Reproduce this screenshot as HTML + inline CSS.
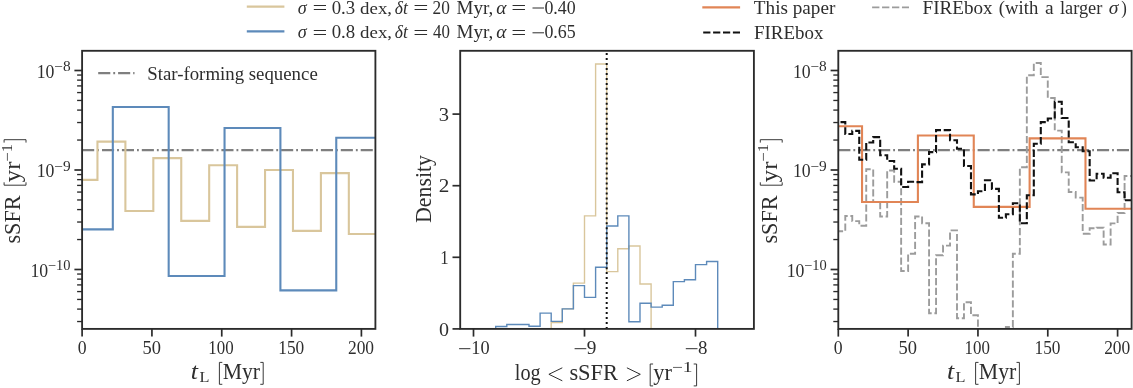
<!DOCTYPE html>
<html><head><meta charset="utf-8"><title>chart</title>
<style>html,body{margin:0;padding:0;background:#fff;}svg{display:block;will-change:transform;}text{font-family:"Liberation Serif",serif;}</style></head>
<body>
<svg width="1133" height="388" viewBox="0 0 1133 388" font-family="'Liberation Serif', serif">
<rect width="1133" height="388" fill="#fff"/>
<clipPath id="c1"><rect x="82.1" y="50.8" width="293.29999999999995" height="278.09999999999997"/></clipPath>
<g clip-path="url(#c1)" fill="none" stroke-linejoin="miter">
<line x1="82.1" x2="375.4" y1="150.1" y2="150.1" stroke="#7f7f7f" stroke-width="2.1" stroke-dasharray="12.1 2.97 1.86 2.97"/>
<path d="M82.10,179.90H97.46V141.60H125.39V211.00H153.32V158.10H181.25V220.90H209.18V165.20H237.11V226.90H265.04V170.00H292.97V230.90H320.90V173.10H348.83V234.00H375.37" stroke="#d9c69c" stroke-width="2.1"/>
<path d="M82.10,229.40H112.82V107.00H168.68V276.00H224.54V128.00H280.40V290.40H336.26V137.70H375.37" stroke="#5d8aba" stroke-width="2.1"/>
</g>
<rect x="82.10" y="50.80" width="293.30" height="278.10" fill="none" stroke="#2b2b2b" stroke-width="1.85"/>
<line x1="74.40" x2="82.10" y1="70.50" y2="70.50" stroke="#2b2b2b" stroke-width="1.7"/>
<line x1="74.40" x2="82.10" y1="170.00" y2="170.00" stroke="#2b2b2b" stroke-width="1.7"/>
<line x1="74.40" x2="82.10" y1="269.50" y2="269.50" stroke="#2b2b2b" stroke-width="1.7"/>
<line x1="77.10" x2="82.10" y1="321.53" y2="321.53" stroke="#2b2b2b" stroke-width="1.35"/>
<line x1="77.10" x2="82.10" y1="309.10" y2="309.10" stroke="#2b2b2b" stroke-width="1.35"/>
<line x1="77.10" x2="82.10" y1="299.45" y2="299.45" stroke="#2b2b2b" stroke-width="1.35"/>
<line x1="77.10" x2="82.10" y1="291.57" y2="291.57" stroke="#2b2b2b" stroke-width="1.35"/>
<line x1="77.10" x2="82.10" y1="284.91" y2="284.91" stroke="#2b2b2b" stroke-width="1.35"/>
<line x1="77.10" x2="82.10" y1="279.14" y2="279.14" stroke="#2b2b2b" stroke-width="1.35"/>
<line x1="77.10" x2="82.10" y1="274.05" y2="274.05" stroke="#2b2b2b" stroke-width="1.35"/>
<line x1="77.10" x2="82.10" y1="239.55" y2="239.55" stroke="#2b2b2b" stroke-width="1.35"/>
<line x1="77.10" x2="82.10" y1="222.03" y2="222.03" stroke="#2b2b2b" stroke-width="1.35"/>
<line x1="77.10" x2="82.10" y1="209.60" y2="209.60" stroke="#2b2b2b" stroke-width="1.35"/>
<line x1="77.10" x2="82.10" y1="199.95" y2="199.95" stroke="#2b2b2b" stroke-width="1.35"/>
<line x1="77.10" x2="82.10" y1="192.07" y2="192.07" stroke="#2b2b2b" stroke-width="1.35"/>
<line x1="77.10" x2="82.10" y1="185.41" y2="185.41" stroke="#2b2b2b" stroke-width="1.35"/>
<line x1="77.10" x2="82.10" y1="179.64" y2="179.64" stroke="#2b2b2b" stroke-width="1.35"/>
<line x1="77.10" x2="82.10" y1="174.55" y2="174.55" stroke="#2b2b2b" stroke-width="1.35"/>
<line x1="77.10" x2="82.10" y1="140.05" y2="140.05" stroke="#2b2b2b" stroke-width="1.35"/>
<line x1="77.10" x2="82.10" y1="122.53" y2="122.53" stroke="#2b2b2b" stroke-width="1.35"/>
<line x1="77.10" x2="82.10" y1="110.10" y2="110.10" stroke="#2b2b2b" stroke-width="1.35"/>
<line x1="77.10" x2="82.10" y1="100.45" y2="100.45" stroke="#2b2b2b" stroke-width="1.35"/>
<line x1="77.10" x2="82.10" y1="92.57" y2="92.57" stroke="#2b2b2b" stroke-width="1.35"/>
<line x1="77.10" x2="82.10" y1="85.91" y2="85.91" stroke="#2b2b2b" stroke-width="1.35"/>
<line x1="77.10" x2="82.10" y1="80.14" y2="80.14" stroke="#2b2b2b" stroke-width="1.35"/>
<line x1="77.10" x2="82.10" y1="75.05" y2="75.05" stroke="#2b2b2b" stroke-width="1.35"/>
<text x="36.74" y="77.60" font-size="18.0" textLength="17.73" lengthAdjust="spacingAndGlyphs" fill="#2e2e2e">10</text>
<text x="54.23" y="71.40" font-size="13.8" textLength="16.35" lengthAdjust="spacingAndGlyphs" fill="#2e2e2e">−8</text>
<text x="36.74" y="177.10" font-size="18.0" textLength="17.73" lengthAdjust="spacingAndGlyphs" fill="#2e2e2e">10</text>
<text x="54.23" y="170.90" font-size="13.8" textLength="16.40" lengthAdjust="spacingAndGlyphs" fill="#2e2e2e">−9</text>
<text x="30.44" y="276.60" font-size="18.0" textLength="17.73" lengthAdjust="spacingAndGlyphs" fill="#2e2e2e">10</text>
<text x="47.98" y="270.40" font-size="13.8" textLength="22.57" lengthAdjust="spacingAndGlyphs" fill="#2e2e2e">−10</text>
<line x1="82.10" x2="82.10" y1="328.90" y2="336.60" stroke="#2b2b2b" stroke-width="1.7"/>
<text x="77.63" y="353.90" font-size="18.0" textLength="8.85" lengthAdjust="spacingAndGlyphs" fill="#2e2e2e">0</text>
<line x1="151.93" x2="151.93" y1="328.90" y2="336.60" stroke="#2b2b2b" stroke-width="1.7"/>
<text x="142.43" y="353.90" font-size="18.0" textLength="18.48" lengthAdjust="spacingAndGlyphs" fill="#2e2e2e">50</text>
<line x1="221.75" x2="221.75" y1="328.90" y2="336.60" stroke="#2b2b2b" stroke-width="1.7"/>
<text x="208.32" y="353.90" font-size="18.0" textLength="25.33" lengthAdjust="spacingAndGlyphs" fill="#2e2e2e">100</text>
<line x1="291.58" x2="291.58" y1="328.90" y2="336.60" stroke="#2b2b2b" stroke-width="1.7"/>
<text x="278.28" y="353.90" font-size="18.0" textLength="25.98" lengthAdjust="spacingAndGlyphs" fill="#2e2e2e">150</text>
<line x1="361.40" x2="361.40" y1="328.90" y2="336.60" stroke="#2b2b2b" stroke-width="1.7"/>
<text x="347.93" y="353.90" font-size="18.0" textLength="26.13" lengthAdjust="spacingAndGlyphs" fill="#2e2e2e">200</text>
<line x1="98.2" x2="134.5" y1="73.1" y2="73.1" stroke="#7f7f7f" stroke-width="2.1" stroke-dasharray="12.1 2.97 1.86 2.97"/>
<text x="147.24" y="79.60" font-size="18.0" textLength="170.51" lengthAdjust="spacingAndGlyphs" fill="#2e2e2e">Star-forming sequence</text>
<text x="190.86" y="378.70" font-size="23.5" font-style="italic" textLength="7.22" lengthAdjust="spacingAndGlyphs" fill="#2e2e2e">t</text>
<text x="199.43" y="382.30" font-size="15.0" textLength="9.95" lengthAdjust="spacingAndGlyphs" fill="#2e2e2e">L</text>
<path d="M222.30,362.40H219.40V384.30H222.30" fill="none" stroke="#2e2e2e" stroke-width="0.95" stroke-linejoin="miter"/>
<text x="222.67" y="378.70" font-size="23.6" textLength="37.42" lengthAdjust="spacingAndGlyphs" fill="#2e2e2e">Myr</text>
<path d="M260.30,362.40H263.20V384.30H260.30" fill="none" stroke="#2e2e2e" stroke-width="0.95" stroke-linejoin="miter"/>
<g transform="translate(20.4,191.1) rotate(-90)">
<text x="-52.51" y="0.00" font-size="23.6" textLength="48.14" lengthAdjust="spacingAndGlyphs" fill="#2e2e2e">sSFR</text>
<path d="M8.80,-16.30H5.90V5.60H8.80" fill="none" stroke="#2e2e2e" stroke-width="0.95" stroke-linejoin="miter"/>
<text x="8.90" y="0.00" font-size="23.6" textLength="20.62" lengthAdjust="spacingAndGlyphs" fill="#2e2e2e">yr</text>
<text x="29.37" y="-8.30" font-size="14.8" textLength="17.73" lengthAdjust="spacingAndGlyphs" fill="#2e2e2e">−1</text>
<path d="M48.50,-16.30H51.40V5.60H48.50" fill="none" stroke="#2e2e2e" stroke-width="0.95" stroke-linejoin="miter"/>
</g>
<clipPath id="c2"><rect x="460.2" y="50.8" width="293.7" height="278.09999999999997"/></clipPath>
<g clip-path="url(#c2)" fill="none" stroke-linejoin="miter">
<path d="M551.20,328.90V322.46H562.30V308.85H573.40V283.08H584.50V215.92H595.60V63.98H606.70V271.62H617.80V248.71H628.90V245.99H640.00V283.94H651.10V328.90" stroke="#d9c69c" stroke-width="1.4"/>
<path d="M495.70,328.90V326.47H506.80V324.46H517.90V324.46H529.00V326.18H540.10V313.15H551.20V321.38H562.30V308.85H573.40V285.58H584.50V297.40H595.60V267.18H606.70V225.94H617.80V215.92H628.90V321.81H640.00V303.20H651.10V307.13H662.20V305.20H673.30V281.64H684.40V279.71H695.50V264.60H706.60V261.52H717.70V328.90" stroke="#5d8aba" stroke-width="1.4"/>
<line x1="606.70" x2="606.70" y1="328.9" y2="50.8" stroke="#111" stroke-width="2.0" stroke-dasharray="2.0 2.98"/>
</g>
<rect x="460.20" y="50.80" width="293.70" height="278.10" fill="none" stroke="#2b2b2b" stroke-width="1.85"/>
<line x1="452.50" x2="460.20" y1="328.90" y2="328.90" stroke="#2b2b2b" stroke-width="1.7"/>
<text x="438.94" y="335.50" font-size="18.0" textLength="10.03" lengthAdjust="spacingAndGlyphs" fill="#2e2e2e">0</text>
<line x1="452.50" x2="460.20" y1="257.30" y2="257.30" stroke="#2b2b2b" stroke-width="1.7"/>
<text x="440.13" y="263.90" font-size="18.0" textLength="8.38" lengthAdjust="spacingAndGlyphs" fill="#2e2e2e">1</text>
<line x1="452.50" x2="460.20" y1="185.70" y2="185.70" stroke="#2b2b2b" stroke-width="1.7"/>
<text x="438.77" y="192.30" font-size="18.0" textLength="10.60" lengthAdjust="spacingAndGlyphs" fill="#2e2e2e">2</text>
<line x1="452.50" x2="460.20" y1="114.10" y2="114.10" stroke="#2b2b2b" stroke-width="1.7"/>
<text x="438.72" y="120.70" font-size="18.0" textLength="10.29" lengthAdjust="spacingAndGlyphs" fill="#2e2e2e">3</text>
<line x1="473.50" x2="473.50" y1="328.90" y2="336.60" stroke="#2b2b2b" stroke-width="1.7"/>
<line x1="459.10" x2="470.40" y1="348.70" y2="348.70" stroke="#2e2e2e" stroke-width="1.0"/>
<text x="471.29" y="354.20" font-size="18.0" textLength="18.31" lengthAdjust="spacingAndGlyphs" fill="#2e2e2e">10</text>
<line x1="584.50" x2="584.50" y1="328.90" y2="336.60" stroke="#2b2b2b" stroke-width="1.7"/>
<line x1="574.60" x2="586.30" y1="348.70" y2="348.70" stroke="#2e2e2e" stroke-width="1.0"/>
<text x="586.88" y="354.20" font-size="18.0" textLength="9.61" lengthAdjust="spacingAndGlyphs" fill="#2e2e2e">9</text>
<line x1="695.50" x2="695.50" y1="328.90" y2="336.60" stroke="#2b2b2b" stroke-width="1.7"/>
<line x1="685.80" x2="697.50" y1="348.70" y2="348.70" stroke="#2e2e2e" stroke-width="1.0"/>
<text x="697.98" y="354.20" font-size="18.0" textLength="9.44" lengthAdjust="spacingAndGlyphs" fill="#2e2e2e">8</text>
<g transform="translate(430.5,188.7) rotate(-90)">
<text x="-34.23" y="0.00" font-size="23.6" textLength="67.91" lengthAdjust="spacingAndGlyphs" fill="#2e2e2e">Density</text>
</g>
<text x="514.79" y="380.30" font-size="23.6" textLength="25.89" lengthAdjust="spacingAndGlyphs" fill="#2e2e2e">log</text>
<path d="M562.3,367.80L548.9,374.30L562.3,380.80" fill="none" stroke="#2e2e2e" stroke-width="1.0"/>
<text x="569.38" y="380.30" font-size="23.6" textLength="48.65" lengthAdjust="spacingAndGlyphs" fill="#2e2e2e">sSFR</text>
<path d="M626.9,367.80L640.3,374.30L626.9,380.80" fill="none" stroke="#2e2e2e" stroke-width="1.0"/>
<path d="M653.10,364.00H650.20V385.90H653.10" fill="none" stroke="#2e2e2e" stroke-width="0.95" stroke-linejoin="miter"/>
<text x="653.33" y="380.30" font-size="23.6" textLength="18.67" lengthAdjust="spacingAndGlyphs" fill="#2e2e2e">yr</text>
<text x="671.73" y="372.00" font-size="14.8" textLength="20.63" lengthAdjust="spacingAndGlyphs" fill="#2e2e2e">−1</text>
<path d="M693.70,364.00H696.60V385.90H693.70" fill="none" stroke="#2e2e2e" stroke-width="0.95" stroke-linejoin="miter"/>
<clipPath id="c3"><rect x="838.3" y="50.8" width="293.29999999999995" height="278.09999999999997"/></clipPath>
<g clip-path="url(#c3)" fill="none" stroke-linejoin="miter">
<line x1="838.3" x2="1131.6" y1="150.1" y2="150.1" stroke="#7f7f7f" stroke-width="2.1" stroke-dasharray="12.1 2.97 1.86 2.97"/>
<path d="M838.30,231.20H845.28V216.00H852.26V221.10H859.25V225.70H866.23V169.30H873.21V202.00H880.19V216.50H887.18V170.50H894.16V181.70H901.14V271.00H908.12V253.70H915.11V216.50H922.09V223.20H929.07V313.20H936.05V255.30H943.04V245.60H950.02V230.40H957.00V318.20H963.98V302.20H970.97V315.20H977.95V400.00H984.93V400.00H991.91V400.00H998.90V400.00H1005.88V327.00H1012.86V253.70H1019.85V167.20H1026.83V75.30H1033.81V63.00H1040.79V77.10H1047.78V98.00H1054.76V130.60H1061.74V172.40H1068.72V192.00H1075.70V197.60H1082.69V233.70H1089.67V228.30H1096.65V227.70H1103.63V244.50H1110.62V223.40H1117.60V213.00H1124.58V176.00H1131.57" stroke="#9c9c9c" stroke-width="1.9" stroke-dasharray="7.2 2.7" stroke-dashoffset="2.4"/>
<path d="M838.30,126.20H862.04V202.00H917.90V135.50H973.76V206.90H1029.62V138.40H1085.48V208.80H1131.57" stroke="#e18556" stroke-width="2.1"/>
<path d="M838.30,122.10H845.28V134.00H852.26V130.90H859.25V159.80H866.23V142.50H873.21V137.10H880.19V155.20H887.18V161.00H894.16V168.80H901.14V187.00H908.12V181.80H915.11V182.10H922.09V164.40H929.07V152.10H936.05V130.10H943.04V130.10H950.02V140.20H957.00V148.70H963.98V166.00H970.97V194.40H977.95V191.20H984.93V180.20H991.91V188.90H998.90V217.80H1005.88V214.20H1012.86V203.30H1019.85V223.20H1026.83V195.20H1033.81V143.80H1040.79V122.10H1047.78V118.50H1054.76V101.70H1061.74V118.00H1068.72V142.30H1075.70V147.20H1082.69V151.30H1089.67V180.50H1096.65V173.80H1103.63V177.80H1110.62V173.30H1117.60V192.20H1124.58V200.30H1131.57" stroke="#111" stroke-width="2.1" stroke-dasharray="7.2 2.7" stroke-dashoffset="7.7"/>
</g>
<rect x="838.30" y="50.80" width="293.30" height="278.10" fill="none" stroke="#2b2b2b" stroke-width="1.85"/>
<line x1="830.60" x2="838.30" y1="70.50" y2="70.50" stroke="#2b2b2b" stroke-width="1.7"/>
<line x1="830.60" x2="838.30" y1="170.00" y2="170.00" stroke="#2b2b2b" stroke-width="1.7"/>
<line x1="830.60" x2="838.30" y1="269.50" y2="269.50" stroke="#2b2b2b" stroke-width="1.7"/>
<line x1="833.30" x2="838.30" y1="321.53" y2="321.53" stroke="#2b2b2b" stroke-width="1.35"/>
<line x1="833.30" x2="838.30" y1="309.10" y2="309.10" stroke="#2b2b2b" stroke-width="1.35"/>
<line x1="833.30" x2="838.30" y1="299.45" y2="299.45" stroke="#2b2b2b" stroke-width="1.35"/>
<line x1="833.30" x2="838.30" y1="291.57" y2="291.57" stroke="#2b2b2b" stroke-width="1.35"/>
<line x1="833.30" x2="838.30" y1="284.91" y2="284.91" stroke="#2b2b2b" stroke-width="1.35"/>
<line x1="833.30" x2="838.30" y1="279.14" y2="279.14" stroke="#2b2b2b" stroke-width="1.35"/>
<line x1="833.30" x2="838.30" y1="274.05" y2="274.05" stroke="#2b2b2b" stroke-width="1.35"/>
<line x1="833.30" x2="838.30" y1="239.55" y2="239.55" stroke="#2b2b2b" stroke-width="1.35"/>
<line x1="833.30" x2="838.30" y1="222.03" y2="222.03" stroke="#2b2b2b" stroke-width="1.35"/>
<line x1="833.30" x2="838.30" y1="209.60" y2="209.60" stroke="#2b2b2b" stroke-width="1.35"/>
<line x1="833.30" x2="838.30" y1="199.95" y2="199.95" stroke="#2b2b2b" stroke-width="1.35"/>
<line x1="833.30" x2="838.30" y1="192.07" y2="192.07" stroke="#2b2b2b" stroke-width="1.35"/>
<line x1="833.30" x2="838.30" y1="185.41" y2="185.41" stroke="#2b2b2b" stroke-width="1.35"/>
<line x1="833.30" x2="838.30" y1="179.64" y2="179.64" stroke="#2b2b2b" stroke-width="1.35"/>
<line x1="833.30" x2="838.30" y1="174.55" y2="174.55" stroke="#2b2b2b" stroke-width="1.35"/>
<line x1="833.30" x2="838.30" y1="140.05" y2="140.05" stroke="#2b2b2b" stroke-width="1.35"/>
<line x1="833.30" x2="838.30" y1="122.53" y2="122.53" stroke="#2b2b2b" stroke-width="1.35"/>
<line x1="833.30" x2="838.30" y1="110.10" y2="110.10" stroke="#2b2b2b" stroke-width="1.35"/>
<line x1="833.30" x2="838.30" y1="100.45" y2="100.45" stroke="#2b2b2b" stroke-width="1.35"/>
<line x1="833.30" x2="838.30" y1="92.57" y2="92.57" stroke="#2b2b2b" stroke-width="1.35"/>
<line x1="833.30" x2="838.30" y1="85.91" y2="85.91" stroke="#2b2b2b" stroke-width="1.35"/>
<line x1="833.30" x2="838.30" y1="80.14" y2="80.14" stroke="#2b2b2b" stroke-width="1.35"/>
<line x1="833.30" x2="838.30" y1="75.05" y2="75.05" stroke="#2b2b2b" stroke-width="1.35"/>
<text x="792.94" y="77.60" font-size="18.0" textLength="17.73" lengthAdjust="spacingAndGlyphs" fill="#2e2e2e">10</text>
<text x="810.43" y="71.40" font-size="13.8" textLength="16.35" lengthAdjust="spacingAndGlyphs" fill="#2e2e2e">−8</text>
<text x="792.94" y="177.10" font-size="18.0" textLength="17.73" lengthAdjust="spacingAndGlyphs" fill="#2e2e2e">10</text>
<text x="810.43" y="170.90" font-size="13.8" textLength="16.40" lengthAdjust="spacingAndGlyphs" fill="#2e2e2e">−9</text>
<text x="786.64" y="276.60" font-size="18.0" textLength="17.73" lengthAdjust="spacingAndGlyphs" fill="#2e2e2e">10</text>
<text x="804.18" y="270.40" font-size="13.8" textLength="22.57" lengthAdjust="spacingAndGlyphs" fill="#2e2e2e">−10</text>
<line x1="838.30" x2="838.30" y1="328.90" y2="336.60" stroke="#2b2b2b" stroke-width="1.7"/>
<text x="833.83" y="353.90" font-size="18.0" textLength="8.85" lengthAdjust="spacingAndGlyphs" fill="#2e2e2e">0</text>
<line x1="908.12" x2="908.12" y1="328.90" y2="336.60" stroke="#2b2b2b" stroke-width="1.7"/>
<text x="898.63" y="353.90" font-size="18.0" textLength="18.48" lengthAdjust="spacingAndGlyphs" fill="#2e2e2e">50</text>
<line x1="977.95" x2="977.95" y1="328.90" y2="336.60" stroke="#2b2b2b" stroke-width="1.7"/>
<text x="964.52" y="353.90" font-size="18.0" textLength="25.33" lengthAdjust="spacingAndGlyphs" fill="#2e2e2e">100</text>
<line x1="1047.78" x2="1047.78" y1="328.90" y2="336.60" stroke="#2b2b2b" stroke-width="1.7"/>
<text x="1034.48" y="353.90" font-size="18.0" textLength="25.98" lengthAdjust="spacingAndGlyphs" fill="#2e2e2e">150</text>
<line x1="1117.60" x2="1117.60" y1="328.90" y2="336.60" stroke="#2b2b2b" stroke-width="1.7"/>
<text x="1104.13" y="353.90" font-size="18.0" textLength="26.13" lengthAdjust="spacingAndGlyphs" fill="#2e2e2e">200</text>
<g transform="translate(776.6,191.1) rotate(-90)">
<text x="-52.51" y="0.00" font-size="23.6" textLength="48.14" lengthAdjust="spacingAndGlyphs" fill="#2e2e2e">sSFR</text>
<path d="M8.80,-16.30H5.90V5.60H8.80" fill="none" stroke="#2e2e2e" stroke-width="0.95" stroke-linejoin="miter"/>
<text x="8.90" y="0.00" font-size="23.6" textLength="20.62" lengthAdjust="spacingAndGlyphs" fill="#2e2e2e">yr</text>
<text x="29.37" y="-8.30" font-size="14.8" textLength="17.73" lengthAdjust="spacingAndGlyphs" fill="#2e2e2e">−1</text>
<path d="M48.50,-16.30H51.40V5.60H48.50" fill="none" stroke="#2e2e2e" stroke-width="0.95" stroke-linejoin="miter"/>
</g>
<text x="947.06" y="378.70" font-size="23.5" font-style="italic" textLength="7.22" lengthAdjust="spacingAndGlyphs" fill="#2e2e2e">t</text>
<text x="955.63" y="382.30" font-size="15.0" textLength="9.95" lengthAdjust="spacingAndGlyphs" fill="#2e2e2e">L</text>
<path d="M978.50,362.40H975.60V384.30H978.50" fill="none" stroke="#2e2e2e" stroke-width="0.95" stroke-linejoin="miter"/>
<text x="978.87" y="378.70" font-size="23.6" textLength="37.42" lengthAdjust="spacingAndGlyphs" fill="#2e2e2e">Myr</text>
<path d="M1016.50,362.40H1019.40V384.30H1016.50" fill="none" stroke="#2e2e2e" stroke-width="0.95" stroke-linejoin="miter"/>
<line x1="246.8" x2="284.4" y1="6.6" y2="6.6" stroke="#d9c69c" stroke-width="2.1"/>
<line x1="246.8" x2="284.4" y1="31.4" y2="31.4" stroke="#5d8aba" stroke-width="2.1"/>
<text x="297.66" y="13.60" font-size="18.4" font-style="italic" textLength="8.96" lengthAdjust="spacingAndGlyphs" fill="#2e2e2e">σ</text>
<text x="312.49" y="13.90" font-size="18.4" textLength="14.79" lengthAdjust="spacingAndGlyphs" fill="#2e2e2e">=</text>
<text x="331.68" y="13.60" font-size="18.0" textLength="23.55" lengthAdjust="spacingAndGlyphs" fill="#2e2e2e">0.3</text>
<text x="360.12" y="13.60" font-size="17.4" textLength="31.97" lengthAdjust="spacingAndGlyphs" fill="#2e2e2e">dex,</text>
<text x="394.78" y="13.60" font-size="18.4" font-style="italic" textLength="13.06" lengthAdjust="spacingAndGlyphs" fill="#2e2e2e">δt</text>
<text x="413.16" y="13.90" font-size="18.4" textLength="15.15" lengthAdjust="spacingAndGlyphs" fill="#2e2e2e">=</text>
<text x="432.54" y="13.60" font-size="18.0" textLength="17.32" lengthAdjust="spacingAndGlyphs" fill="#2e2e2e">20</text>
<text x="456.56" y="13.60" font-size="18.4" textLength="36.81" lengthAdjust="spacingAndGlyphs" fill="#2e2e2e">Myr,</text>
<text x="496.32" y="13.60" font-size="18.4" font-style="italic" textLength="10.16" lengthAdjust="spacingAndGlyphs" fill="#2e2e2e">α</text>
<text x="511.37" y="13.90" font-size="18.4" textLength="15.03" lengthAdjust="spacingAndGlyphs" fill="#2e2e2e">=</text>
<line x1="532.50" x2="544.00" y1="8.00" y2="8.00" stroke="#2e2e2e" stroke-width="1.0"/>
<text x="544.42" y="13.60" font-size="18.0" textLength="31.26" lengthAdjust="spacingAndGlyphs" fill="#2e2e2e">0.40</text>
<text x="297.66" y="38.40" font-size="18.4" font-style="italic" textLength="8.96" lengthAdjust="spacingAndGlyphs" fill="#2e2e2e">σ</text>
<text x="312.49" y="38.70" font-size="18.4" textLength="14.79" lengthAdjust="spacingAndGlyphs" fill="#2e2e2e">=</text>
<text x="331.68" y="38.40" font-size="18.0" textLength="23.53" lengthAdjust="spacingAndGlyphs" fill="#2e2e2e">0.8</text>
<text x="360.12" y="38.40" font-size="17.4" textLength="31.97" lengthAdjust="spacingAndGlyphs" fill="#2e2e2e">dex,</text>
<text x="394.78" y="38.40" font-size="18.4" font-style="italic" textLength="13.06" lengthAdjust="spacingAndGlyphs" fill="#2e2e2e">δt</text>
<text x="413.16" y="38.70" font-size="18.4" textLength="15.15" lengthAdjust="spacingAndGlyphs" fill="#2e2e2e">=</text>
<text x="432.97" y="38.40" font-size="18.0" textLength="16.87" lengthAdjust="spacingAndGlyphs" fill="#2e2e2e">40</text>
<text x="456.56" y="38.40" font-size="18.4" textLength="36.81" lengthAdjust="spacingAndGlyphs" fill="#2e2e2e">Myr,</text>
<text x="496.32" y="38.40" font-size="18.4" font-style="italic" textLength="10.16" lengthAdjust="spacingAndGlyphs" fill="#2e2e2e">α</text>
<text x="511.37" y="38.70" font-size="18.4" textLength="15.03" lengthAdjust="spacingAndGlyphs" fill="#2e2e2e">=</text>
<line x1="532.50" x2="544.00" y1="32.80" y2="32.80" stroke="#2e2e2e" stroke-width="1.0"/>
<text x="544.42" y="38.40" font-size="18.0" textLength="31.28" lengthAdjust="spacingAndGlyphs" fill="#2e2e2e">0.65</text>
<line x1="702.3" x2="740.1" y1="7.4" y2="7.4" stroke="#e18556" stroke-width="2.1"/>
<line x1="703.2" x2="740.0" y1="32.5" y2="32.5" stroke="#111" stroke-width="2.1" stroke-dasharray="7.2 2.7"/>
<text x="753.85" y="13.70" font-size="18.4" textLength="81.52" lengthAdjust="spacingAndGlyphs" fill="#2e2e2e">This paper</text>
<text x="754.05" y="38.50" font-size="18.4" textLength="69.38" lengthAdjust="spacingAndGlyphs" fill="#2e2e2e">FIREbox</text>
<line x1="872.1" x2="909.0" y1="7.4" y2="7.4" stroke="#9c9c9c" stroke-width="1.9" stroke-dasharray="7.3 2.65"/>
<text x="922.55" y="13.70" font-size="18.4" textLength="70.08" lengthAdjust="spacingAndGlyphs" fill="#2e2e2e">FIREbox</text>
<text x="998.88" y="13.70" font-size="18.4" textLength="39.47" lengthAdjust="spacingAndGlyphs" fill="#2e2e2e">(with</text>
<text x="1045.11" y="13.70" font-size="18.4" textLength="8.65" lengthAdjust="spacingAndGlyphs" fill="#2e2e2e">a</text>
<text x="1059.94" y="13.70" font-size="18.4" textLength="42.42" lengthAdjust="spacingAndGlyphs" fill="#2e2e2e">larger</text>
<text x="1108.72" y="13.70" font-size="18.4" font-style="italic" textLength="9.66" lengthAdjust="spacingAndGlyphs" fill="#2e2e2e">σ</text>
<text x="1121.26" y="13.70" font-size="18.4" textLength="5.58" lengthAdjust="spacingAndGlyphs" fill="#2e2e2e">)</text>
</svg>
</body></html>
